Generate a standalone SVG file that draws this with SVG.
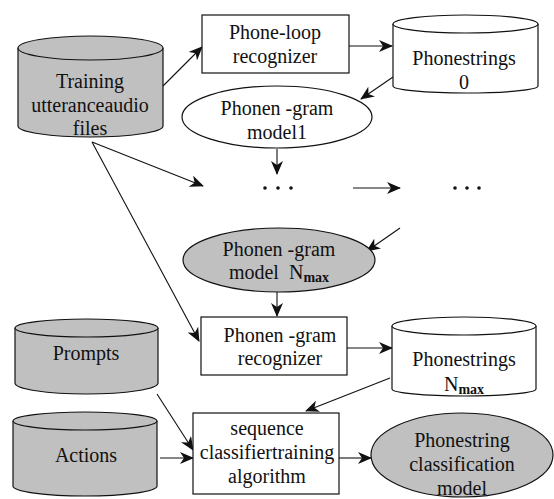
<svg xmlns="http://www.w3.org/2000/svg" width="554" height="499" viewBox="0 0 554 499">
<style>
.s{stroke:#111;stroke-width:1.2}
.w{fill:#fff}
.g{fill:#c0c0c0}
text{font-family:'Liberation Serif','Times New Roman','DejaVu Serif',serif;font-size:20px;fill:#111;text-anchor:middle;white-space:pre}
.sub{font-size:14px;font-weight:bold}
.c{fill:none;stroke:#111;stroke-width:1.1}
</style>
<defs>
<marker id="a" viewBox="0 0 14 12" refX="13" refY="6" markerWidth="14" markerHeight="12" markerUnits="userSpaceOnUse" orient="auto">
<path d="M0,0 L14,6 L0,12 L4,6 z" fill="#111"/>
</marker>
</defs>
<rect width="554" height="499" fill="#fff"/>
<g id="connectors" class="c">
<line x1="163" y1="86" x2="202" y2="47" marker-end="url(#a)"/>
<line x1="349" y1="46" x2="392" y2="46" marker-end="url(#a)"/>
<line x1="393" y1="77" x2="361" y2="99" marker-end="url(#a)"/>
<line x1="92" y1="142" x2="203" y2="186" marker-end="url(#a)"/>
<line x1="92" y1="142" x2="199" y2="341" marker-end="url(#a)"/>
<line x1="277" y1="149" x2="277" y2="174" marker-end="url(#a)"/>
<line x1="353" y1="188" x2="400" y2="188" marker-end="url(#a)"/>
<line x1="400" y1="228" x2="367" y2="251" marker-end="url(#a)"/>
<line x1="277" y1="292" x2="277" y2="316" marker-end="url(#a)"/>
<line x1="347" y1="348" x2="392" y2="348" marker-end="url(#a)"/>
<line x1="390" y1="378" x2="306" y2="411" marker-end="url(#a)"/>
<line x1="157" y1="394" x2="193" y2="450" marker-end="url(#a)"/>
<line x1="160" y1="458" x2="193" y2="458" marker-end="url(#a)"/>
<line x1="339" y1="458" x2="371" y2="458" marker-end="url(#a)"/>
</g>
<g id="training">
<path class="s g" d="M18,48 L18,126 A72.5,11 0 0 0 163,126 L163,48"/>
<ellipse class="s g" cx="90.5" cy="48" rx="72.5" ry="12"/>
<text x="90" y="88">Training</text>
<text x="90" y="112">utteranceaudio</text>
<text x="90" y="135">files</text>
</g>
<g id="phoneloop">
<rect class="s w" x="202" y="15" width="147" height="58"/>
<text x="275" y="39">Phone-loop</text>
<text x="275" y="63">recognizer</text>
</g>
<g id="phonestrings0">
<path class="s w" d="M393,24 L393,86 A72.5,7 0 0 0 538,86 L538,24"/>
<ellipse class="s w" cx="465.5" cy="24" rx="72.5" ry="9"/>
<text x="464" y="65">Phonestrings</text>
<text x="464" y="89">0</text>
</g>
<g id="model1">
<ellipse class="s w" cx="277" cy="117" rx="95" ry="31"/>
<text x="277" y="115">Phonen -gram</text>
<text x="277" y="139">model1</text>
</g>
<g id="dots1">
<circle cx="265" cy="188" r="1.8" fill="#111"/>
<circle cx="278" cy="188" r="1.8" fill="#111"/>
<circle cx="291" cy="188" r="1.8" fill="#111"/>
</g>
<g id="dots2">
<circle cx="455" cy="188" r="1.8" fill="#111"/>
<circle cx="467" cy="188" r="1.8" fill="#111"/>
<circle cx="479" cy="188" r="1.8" fill="#111"/>
</g>
<g id="modelNmax">
<ellipse class="s g" cx="279" cy="260" rx="96" ry="32"/>
<text x="279" y="256">Phonen -gram</text>
<text x="279" y="279">model  N<tspan class="sub" dy="3">max</tspan></text>
</g>
<g id="ngramrecognizer">
<rect class="s w" x="201" y="317" width="146" height="58"/>
<text x="280" y="342">Phonen -gram</text>
<text x="280" y="365">recognizer</text>
</g>
<g id="phonestringsNmax">
<path class="s w" d="M392,326 L392,389 A72,7 0 0 0 536,389 L536,326"/>
<ellipse class="s w" cx="464" cy="326" rx="72" ry="9"/>
<text x="464" y="366">Phonestrings</text>
<text x="464" y="391">N<tspan class="sub" dy="3">max</tspan></text>
</g>
<g id="prompts">
<path class="s g" d="M15,328 L15,383 A71.5,11 0 0 0 158,383 L158,328"/>
<ellipse class="s g" cx="86.5" cy="328" rx="71.5" ry="9"/>
<text x="86" y="360">Prompts</text>
</g>
<g id="actions">
<path class="s g" d="M13,421 L13,486 A72,10 0 0 0 157,486 L157,421"/>
<ellipse class="s g" cx="85" cy="421" rx="72" ry="9"/>
<text x="86" y="462">Actions</text>
</g>
<g id="sequence">
<rect class="s w" x="193" y="413" width="146" height="81"/>
<text x="267" y="435">sequence</text>
<text x="267" y="459">classifiertraining</text>
<text x="267" y="483">algorithm</text>
</g>
<g id="classification">
<ellipse class="s g" cx="462" cy="455" rx="91" ry="42"/>
<text x="462" y="447">Phonestring</text>
<text x="462" y="471">classification</text>
<text x="462" y="495">model</text>
</g>
</svg>
